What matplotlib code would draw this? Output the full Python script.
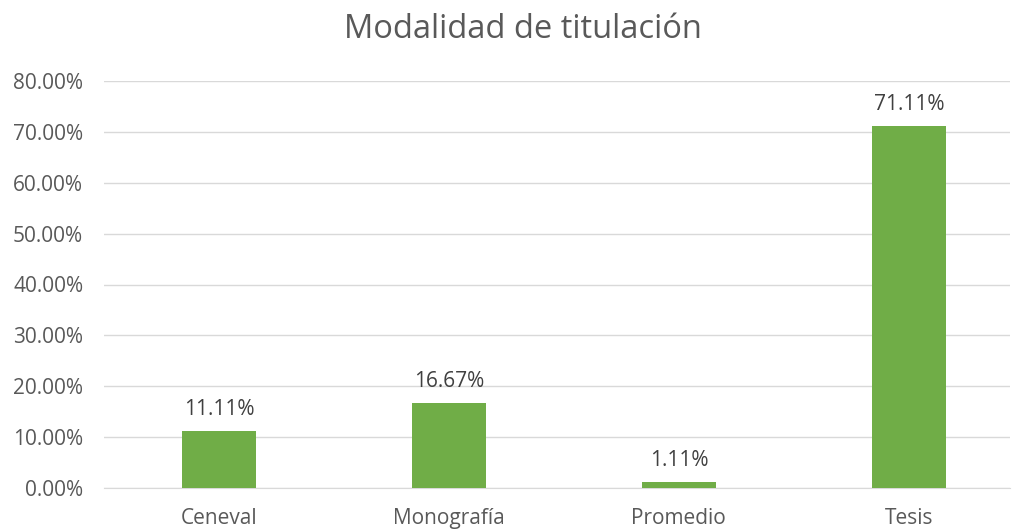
import matplotlib.pyplot as plt

categorias = ["Ceneval", "Monografía", "Promedio", "Tesis"]
porcentajes = [11.11, 16.67, 1.11, 71.11]
etiquetas = ["11.11%", "16.67%", "1.11%", "71.11%"]

plt.rcParams['font.family'] = ['Open Sans', 'DejaVu Sans']

fig = plt.figure(figsize=(10.13, 5.29), dpi=100)
ax = fig.add_axes([104 / 1013, 1 - 488 / 529, (1010 - 104) / 1013, (488 - 81) / 529])

x = range(len(categorias))
barras = ax.bar(x, porcentajes, width=0.32, color="#70AD47", zorder=3)

# etiquetas de datos encima de cada barra
for b, txt in zip(barras, etiquetas):
    ax.annotate(txt, (b.get_x() + b.get_width() / 2, b.get_height()),
                xytext=(0, 8), textcoords="offset points",
                ha="center", va="bottom", fontsize=15, color="#404040")

ax.set_ylim(0, 80)
ax.set_xlim(-0.5, 3.44)
ax.set_yticks(range(0, 81, 10))
ax.set_yticklabels([f"{v:.2f}%" for v in range(0, 81, 10)])
ax.set_xticks(list(x))
ax.set_xticklabels(categorias)
ax.tick_params(axis="both", length=0, labelsize=15, labelcolor="#595959")
ax.tick_params(axis="y", pad=15)
ax.tick_params(axis="x", pad=14.5)

ax.grid(axis="y", color="#D9D9D9", linewidth=1, zorder=0)
for s in ["top", "right", "left"]:
    ax.spines[s].set_visible(False)
ax.spines["bottom"].set_color("#D9D9D9")

fig.text(523 / 1013, 1 - 30 / 529, "Modalidad de titulación", ha="center", va="center",
         fontsize=23.5, color="#595959")

fig.savefig("out.png", dpi=100)
